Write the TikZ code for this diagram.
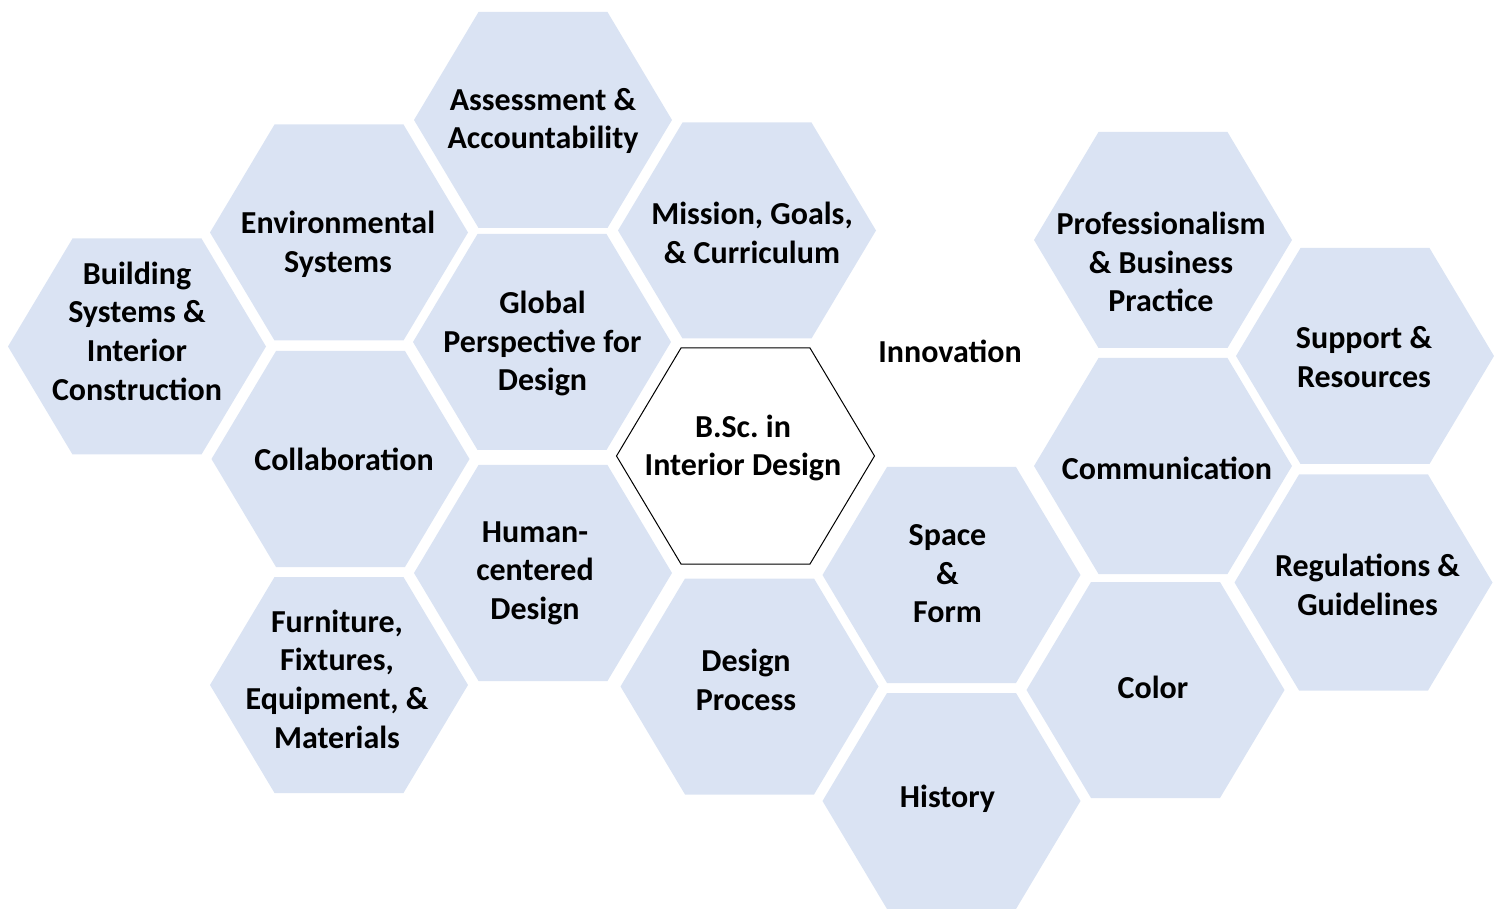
\documentclass[tikz,border=0pt]{standalone}
\usepackage{fontspec}
\setmainfont{Carlito}
\frenchspacing
\definecolor{cellblue}{HTML}{DAE3F3}
\tikzset{
  hexagon path/.style={insert path={++(-129,0) -- ++(64.5,-108) -- ++(129,0) -- ++(64.5,108) -- ++(-64.5,108) -- ++(-129,0) -- cycle}},
  cell/.style={fill=cellblue},
  hub/.style={fill=white, draw=black, line width=0.5pt},
  label/.style={align=center, font=\fontsize{16}{19.3}\selectfont\bfseries, inner sep=0pt}
}
\begin{document}
\begin{tikzpicture}[x=0.5pt, y=-0.5pt]
\useasboundingbox (0,0) rectangle (1501,909);
% hexagon centres
\coordinate (hAss) at (543,120);
\coordinate (hEnv) at (339,232.5);
\coordinate (hBld) at (137,346.5);
\coordinate (hMis) at (747,230.5);
\coordinate (hGlo) at (542,342);
\coordinate (hCol) at (340.5,459);
\coordinate (hHum) at (543,573);
\coordinate (hFur) at (339,685);
\coordinate (hBsc) at (745.5,456);
\coordinate (hDes) at (749.5,686.5);
\coordinate (hSpa) at (951.5,575);
\coordinate (hHis) at (951.5,801);
\coordinate (hPro) at (1163,240);
\coordinate (hCom) at (1163,466);
\coordinate (hCor) at (1155.5,690);
\coordinate (hSup) at (1365,356);
\coordinate (hReg) at (1363.5,582.5);
% hexagons
\foreach \h in {hAss,hEnv,hBld,hMis,hGlo,hCol,hHum,hFur,hDes,hSpa,hHis,hPro,hCom,hCor,hSup,hReg}
  \fill[cell] (\h) [hexagon path];
\draw[hub] (hBsc) [hexagon path];
% labels
\node[label] (tAss) at (543,121) {Assessment \&\\Accountability};
\node[label] (tEnv) at (338,244) {Environmental\\Systems};
\node[label] (tBld) at (137,331) {Building\\Systems \&\\Interior\\Construction};
\node[label] (tMis) at (752,233) {Mission, Goals,\\\& Curriculum};
\node[label] (tGlo) at (542.5,343.5) {Global\\Perspective for\\Design};
\node[label] (tCol) at (344,459) {Collaboration};
\node[label] (tHum) at (535,573) {Human-\\centered\\Design};
\node[label] (tFur) at (337,679) {Furniture,\\Fixtures,\\Equipment, \&\\Materials};
\node[label] (tBsc) at (743,448) {B.Sc. in\\Interior Design};
\node[label] (tDes) at (746,680) {Design\\Process};
\node[label] (tSpa) at (947.5,574) {Space\\\&\\Form};
\node[label] (tHis) at (947.5,799) {History};
\node[label] (tInn) at (950,351) {Innovation};
\node[label] (tPro) at (1161,262) {Professionalism\\\& Business\\Practice};
\node[label] (tCom) at (1167,468) {Communication};
\node[label] (tCor) at (1153,687) {Color};
\node[label] (tSup) at (1364,357) {Support \&\\Resources};
\node[label] (tReg) at (1367.5,585) {Regulations \&\\Guidelines};
\end{tikzpicture}
\end{document}
